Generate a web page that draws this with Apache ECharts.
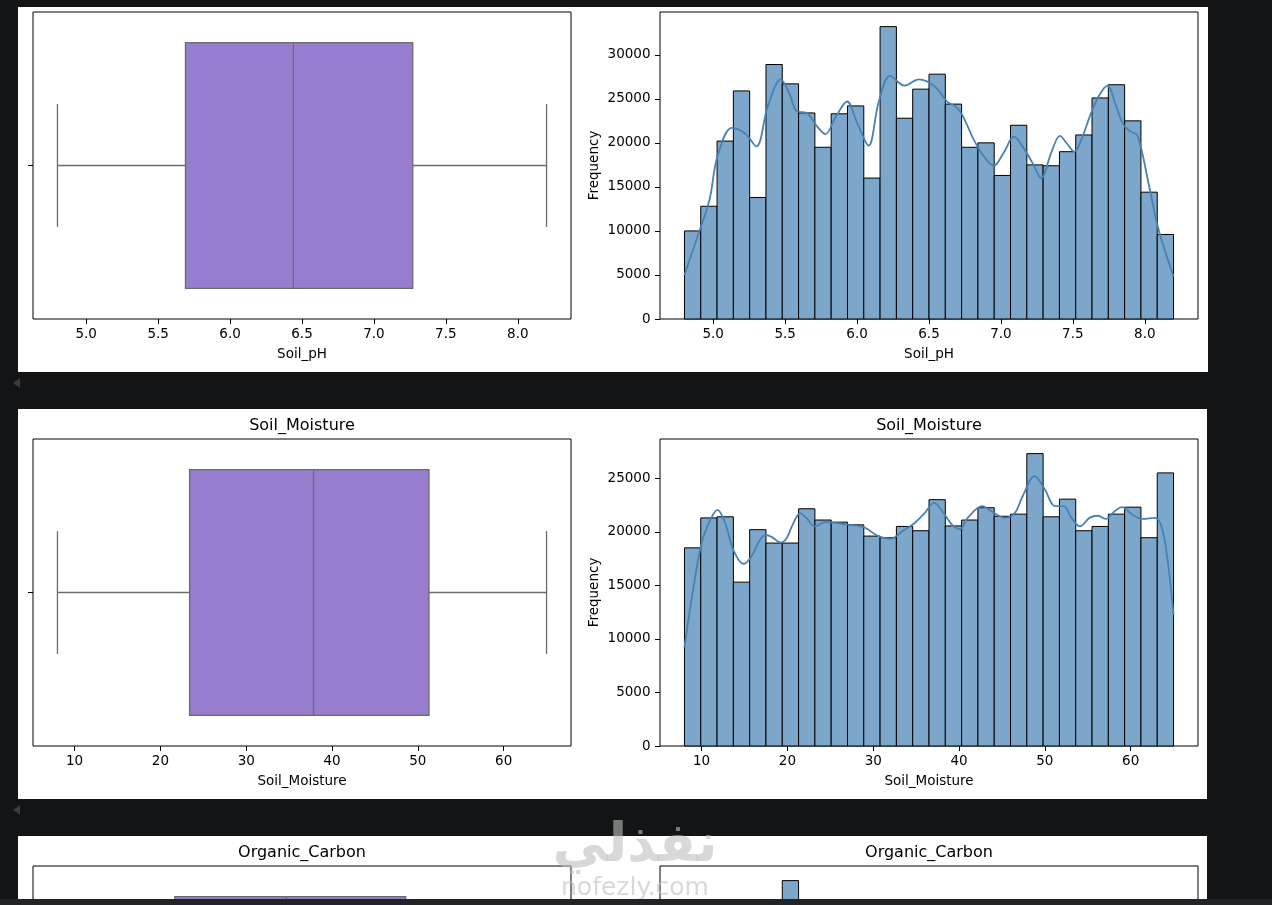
<!DOCTYPE html>
<html><head><meta charset="utf-8">
<script src="https://cdn.jsdelivr.net/npm/echarts@6/dist/echarts.min.js"></script>
<style>
html,body{margin:0;padding:0;background:#131416;overflow:hidden;width:1272px;height:905px}
.panel{position:absolute;background:#fff}
#c{position:absolute;left:0;top:0;width:1272px;height:1250px}
#wm{position:absolute;left:535px;top:812px;width:200px;text-align:center;color:rgba(190,190,190,0.6);font-family:'DejaVu Sans';pointer-events:none;z-index:5}
#bottomband{position:absolute;left:0;top:899px;width:1272px;height:6px;background:#222326;z-index:6}
.arrow{position:absolute;left:13px;width:0;height:0;border-top:5px solid transparent;border-bottom:5px solid transparent;border-right:7px solid #3b3c40}
</style>
</head><body>
<div class="panel" style="left:18px;top:7px;width:1190px;height:365px"></div>
<div class="panel" style="left:18px;top:409px;width:1189px;height:390px"></div>
<div class="panel" style="left:18px;top:836px;width:1189px;height:80px"></div>
<div class="arrow" style="top:378px"></div>
<div class="arrow" style="top:805px"></div>
<div id="c"></div>
<div id="wm"><div style="font-size:54px;font-weight:bold;line-height:62px">نفذلي</div><div style="font-size:25px;line-height:26px">nofezly.com</div></div>
<div id="bottomband"></div>
<script>
// ---------- data ----------
const phBox = [4.8, 5.69, 6.44, 7.27, 8.2];           // min, Q1, median, Q3, max
const phRange = [4.8, 8.2];
const phCounts = [10000, 12800, 20200, 25900, 13800, 28900, 26700, 23400, 19500, 23300,
                  24200, 16000, 33200, 22800, 26100, 27800, 24400, 19500, 20000, 16300,
                  22000, 17500, 17400, 19000, 20900, 25100, 26600, 22500, 14400, 9600];
const phKdeX = [4.80, 4.90, 4.975, 5.03, 5.13, 5.22, 5.30, 5.38, 5.47, 5.53, 5.58, 5.65, 5.72, 5.78,
                5.85, 5.93, 6.00, 6.08, 6.15, 6.23, 6.33, 6.43, 6.54, 6.63, 6.68, 6.73, 6.81, 6.88,
                6.95, 7.02, 7.09, 7.15, 7.22, 7.28, 7.35, 7.41, 7.46, 7.51, 7.56, 7.62, 7.68, 7.74,
                7.80, 7.85, 7.90, 7.95, 8.03, 8.09, 8.20];
const phKdeY = [5000, 9800, 13600, 18500, 21700, 21100, 19600, 24200, 27200, 25600, 23600, 23400, 21900, 21000,
                22900, 24700, 22300, 19700, 24600, 27600, 26500, 27200, 26400, 24600, 24200, 23200, 20400, 18500,
                17400, 18900, 20700, 19600, 17700, 16000, 18900, 20800, 19900, 19000, 20400, 23100, 25300, 26500,
                24200, 22100, 21300, 20800, 15100, 10500, 4800];
const phTicks = [5.0, 5.5, 6.0, 6.5, 7.0, 7.5, 8.0];
const phFreqTicks = [0, 5000, 10000, 15000, 20000, 25000, 30000];

const moistBox = [8.0, 23.4, 37.85, 51.3, 65.0];
const moistRange = [8, 65];
const moistCounts = [18500, 21300, 21400, 15300, 20200, 18950, 18950, 22150, 21100, 20900,
                     20650, 19600, 19450, 20500, 20100, 23000, 20550, 21100, 22250, 21450,
                     21650, 27300, 21400, 23050, 20100, 20500, 21650, 22300, 19450, 25500];
const moistKdeX = [8.0, 8.95, 10.0, 11.0, 11.85, 12.75, 13.7, 14.9, 15.8, 16.8, 17.5, 18.2, 19.2, 19.9,
                   20.6, 21.5, 22.2, 23.2, 24.4, 26.3, 28.2, 29.1, 30.6, 32.0, 33.4, 34.8, 36.0, 37.1,
                   38.2, 39.2, 40.1, 41.0, 42.7, 43.8, 45.3, 46.5, 47.4, 48.8, 50.0, 51.2, 52.2, 53.1,
                   54.1, 55.2, 56.2, 57.1, 58.1, 59.0, 60.2, 61.4, 62.8, 63.6, 64.3, 65.0];
const moistKdeY = [9200, 14300, 18950, 21100, 22050, 20800, 18300, 17000, 17700, 19250, 19700, 19500, 19000, 19400,
                   20650, 21750, 21300, 20500, 20900, 20750, 20550, 20350, 19600, 19350, 20050, 20800, 21750, 22700,
                   21750, 20650, 20250, 21300, 22400, 21900, 21300, 21750, 23300, 25200, 23950, 22400, 22400, 21300,
                   20500, 21300, 21500, 21200, 21900, 22300, 21600, 21200, 21300, 20500, 17400, 12250];
const moistTicks = [10, 20, 30, 40, 50, 60];
const moistFreqTicks = [0, 5000, 10000, 15000, 20000, 25000];

const carbonBox = [0.5, 1.1, 1.67, 2.28, 3.0];
const carbonRange = [0.5, 3.0];
const carbonCounts = [22000, 26000, 29000, 31000, 33000, 35000, 57000, 34000, 32000, 30000,
                      29000, 27000, 26000, 25000, 24000, 23000, 22000, 21000, 20000, 19000,
                      18000, 17000, 16000, 15000, 14000, 13000, 12000, 11000, 10000, 9000];
const carbonTicks = [0.5, 1.0, 1.5, 2.0, 2.5, 3.0];
const carbonFreqTicks = [0, 10000, 20000, 30000, 40000, 50000];

// ---------- helpers ----------
const FONT = 'DejaVu Sans';
const BOX_FILL = '#977DCE', BOX_LINE = '#6b6b6b';
const BAR_FILL = '#7DA7CA', KDE = '#4682B4';
function padRange(r) { const d = (r[1] - r[0]) * 0.05; return [r[0] - d, r[1] + d]; }
function bins(range, counts) {
  const n = counts.length, w = (range[1] - range[0]) / n;
  return counts.map((c, i) => [range[0] + i * w, range[0] + (i + 1) * w, c]);
}
function zip(a, b) { return a.map((v, i) => [v, b[i]]); }

const grids = [];
const xAxes = [], yAxes = [], series = [];
const L = 33, R = 660, W = 538, H = 307;
const tops = [12, 439, 866];

function xAxisDef(gi, rng, ticks, dec, name) {
  const p = padRange(rng);
  return {
    type: 'value', gridIndex: gi, min: p[0], max: p[1], position: 'bottom',
    axisLine: { show: false, onZero: false }, splitLine: { show: false },
    axisTick: { show: true, customValues: ticks, length: 5, lineStyle: { color: '#000', width: 1 } },
    axisLabel: { customValues: ticks, formatter: v => dec ? v.toFixed(dec) : String(v), fontSize: 13.5, color: '#000', fontFamily: FONT, margin: 8.5 },
    name: name, nameLocation: 'middle', nameGap: 28,
    nameTextStyle: { fontSize: 13.5, color: '#000', fontFamily: FONT }
  };
}
function boxYAxis(gi) {
  return {
    type: 'value', gridIndex: gi, min: -0.5, max: 0.5,
    axisLine: { show: false, onZero: false }, splitLine: { show: false },
    axisTick: { show: true, customValues: [0], length: 5, lineStyle: { color: '#000', width: 1 } },
    axisLabel: { show: false }
  };
}
function freqYAxis(gi, counts, ticks) {
  return {
    type: 'value', gridIndex: gi, min: 0, max: Math.max(...counts) * 1.05,
    axisLine: { show: false, onZero: false }, splitLine: { show: false },
    axisTick: { show: true, customValues: ticks, length: 5, lineStyle: { color: '#000', width: 1 } },
    axisLabel: { customValues: ticks, formatter: v => String(v), fontSize: 13.5, color: '#000', fontFamily: FONT, margin: 9.5 },
    name: 'Frequency', nameLocation: 'middle', nameGap: 59,
    nameTextStyle: { fontSize: 13.5, color: '#000', fontFamily: FONT }
  };
}
function boxRender(params, api) {
  const lo = api.value(0), q1 = api.value(1), md = api.value(2), q3 = api.value(3), hi = api.value(4);
  const a = api.coord([q1, 0.4]), b = api.coord([q3, -0.4]);
  const mTop = api.coord([md, 0.4]), mBot = api.coord([md, -0.4]);
  const cL = api.coord([lo, 0]), cR = api.coord([hi, 0]);
  const capTL = api.coord([lo, 0.2]), capBL = api.coord([lo, -0.2]);
  const capTR = api.coord([hi, 0.2]), capBR = api.coord([hi, -0.2]);
  const ls = { stroke: BOX_LINE, lineWidth: 1.3 };
  return {
    type: 'group', children: [
      { type: 'line', shape: { x1: cL[0], y1: cL[1], x2: a[0], y2: cL[1] }, style: ls },
      { type: 'line', shape: { x1: b[0], y1: cR[1], x2: cR[0], y2: cR[1] }, style: ls },
      { type: 'line', shape: { x1: capTL[0], y1: capTL[1], x2: capBL[0], y2: capBL[1] }, style: ls },
      { type: 'line', shape: { x1: capTR[0], y1: capTR[1], x2: capBR[0], y2: capBR[1] }, style: ls },
      { type: 'rect', shape: { x: a[0], y: a[1], width: b[0] - a[0], height: b[1] - a[1] }, style: { fill: BOX_FILL, stroke: BOX_LINE, lineWidth: 1.3 } },
      { type: 'line', shape: { x1: mTop[0], y1: mTop[1], x2: mBot[0], y2: mBot[1] }, style: ls }
    ]
  };
}
function histRender(params, api) {
  const a = api.coord([api.value(0), api.value(2)]);
  const b = api.coord([api.value(1), 0]);
  return { type: 'rect', shape: { x: a[0], y: a[1], width: b[0] - a[0], height: b[1] - a[1] },
           style: { fill: BAR_FILL, stroke: '#000', lineWidth: 1 } };
}

const rows = [
  { box: phBox, range: phRange, counts: phCounts, kx: phKdeX, ky: phKdeY, ticks: phTicks, dec: 1, fticks: phFreqTicks, name: 'Soil_pH' },
  { box: moistBox, range: moistRange, counts: moistCounts, kx: moistKdeX, ky: moistKdeY, ticks: moistTicks, dec: 0, fticks: moistFreqTicks, name: 'Soil_Moisture' },
  { box: carbonBox, range: carbonRange, counts: carbonCounts, kx: null, ky: null, ticks: carbonTicks, dec: 1, fticks: carbonFreqTicks, name: 'Organic_Carbon' }
];

const graphics = [];
rows.forEach((r, i) => {
  const gBox = i * 2, gHist = i * 2 + 1;
  grids.push({ left: L, top: tops[i], width: W, height: H, show: true, borderColor: '#000', borderWidth: 1, backgroundColor: 'transparent' });
  grids.push({ left: R, top: tops[i], width: W, height: H, show: true, borderColor: '#000', borderWidth: 1, backgroundColor: 'transparent' });
  xAxes.push(xAxisDef(gBox, r.range, r.ticks, r.dec, r.name));
  xAxes.push(xAxisDef(gHist, r.range, r.ticks, r.dec, r.name));
  yAxes.push(boxYAxis(gBox));
  yAxes.push(freqYAxis(gHist, r.counts, r.fticks));
  series.push({ type: 'custom', xAxisIndex: gBox, yAxisIndex: gBox, renderItem: boxRender,
                encode: { x: [0, 1, 2, 3, 4] }, data: [r.box], silent: true, z: 3 });
  series.push({ type: 'custom', xAxisIndex: gHist, yAxisIndex: gHist, renderItem: histRender,
                encode: { x: [0, 1], y: 2 }, data: bins(r.range, r.counts), silent: true, z: 2 });
  if (r.kx) {
    series.push({ type: 'line', xAxisIndex: gHist, yAxisIndex: gHist, data: zip(r.kx, r.ky),
                  smooth: 0.35, showSymbol: false, silent: true, z: 4,
                  lineStyle: { color: KDE, width: 1.8 } });
  }
  if (i > 0) {
    graphics.push({ type: 'text', x: L + W / 2, y: tops[i] - 13, style: { text: r.name, font: '16px "DejaVu Sans"', fill: '#000', textAlign: 'center', textVerticalAlign: 'middle' } });
    graphics.push({ type: 'text', x: R + W / 2, y: tops[i] - 13, style: { text: r.name, font: '16px "DejaVu Sans"', fill: '#000', textAlign: 'center', textVerticalAlign: 'middle' } });
  }
});

const chart = echarts.init(document.getElementById('c'), null, { renderer: 'canvas' });
chart.setOption({
  backgroundColor: 'transparent',
  animation: false,
  textStyle: { fontFamily: FONT },
  grid: grids, xAxis: xAxes, yAxis: yAxes, series: series,
  graphic: graphics
});
</script>
</body></html>
